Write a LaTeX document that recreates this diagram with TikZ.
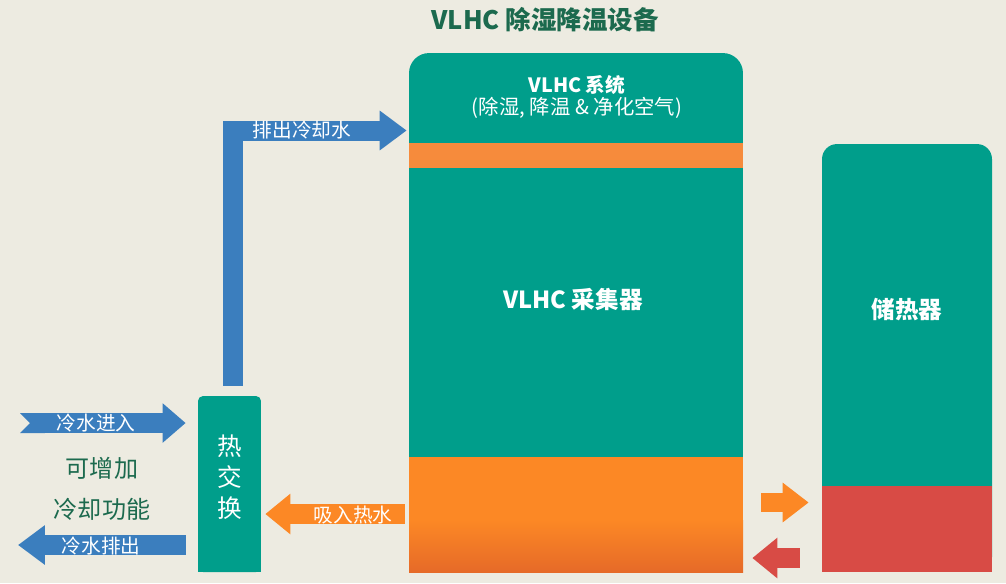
\documentclass[tikz,border=0pt]{standalone}
\usepackage{fontspec}
\setmainfont{Noto Sans CJK SC}
\usetikzlibrary{arrows.meta}

\definecolor{bgcol}{HTML}{EDEBE1}
\definecolor{tealbox}{HTML}{009E8B}
\definecolor{orangebox}{HTML}{FC8825}
\definecolor{orangedark}{HTML}{E66A28}
\definecolor{orangeband}{HTML}{F68B3C}
\definecolor{redbox}{HTML}{D84B45}
\definecolor{bluearrow}{HTML}{3B7EBE}
\definecolor{titlegreen}{HTML}{1C6A4E}

\begin{document}
\begin{tikzpicture}[x=0.02cm,y=-0.02cm,
	box/.style={fill=tealbox,inner sep=0pt},
	label/.style={text=white,inner sep=0pt,font=\fontsize{11.2}{13}\selectfont},
	bigarrow/.style={line width=0.4cm,line join=miter},
	]
	\fill[bgcol] (0,0) rectangle (1006,583);

	% boxes
	\node[box,rounded corners=0.4cm,minimum width=6.68cm,minimum height=10.38cm] (vlhc) at (576,312.5) {};
	\node[box,rounded corners=0.3cm,minimum width=3.4cm,minimum height=8.56cm] (store) at (907,358) {};
	\node[box,rounded corners=0.1cm,minimum width=1.26cm,minimum height=3.52cm] (hx) at (229.5,484) {};
	\fill[tealbox] (198,540) rectangle (261,572);
	\fill[orangeband] (409,143) rectangle (743,168);
	\fill[orangebox] (409,457) rectangle (743,521);
	\shade[top color=orangebox,bottom color=orangedark] (409,520) rectangle (743,572);
	\fill[redbox] (822,486) rectangle (992,572);

	% texts
	\node[text=titlegreen,font=\fontsize{14.5}{16}\selectfont\bfseries] (title) at (545,20) {VLHC 除湿降温设备};
	\node[text=white,font=\fontsize{11.2}{13}\selectfont\bfseries] (sys) at (577,85) {VLHC 系统};
	\node[text=white,font=\fontsize{11.6}{13}\selectfont] (sysnote) at (577,108) {(除湿, 降温 \& 净化空气)};
	\node[text=white,font=\fontsize{13.4}{15}\selectfont\bfseries] (coll) at (573,299) {VLHC 采集器};
	\node[text=white,font=\fontsize{13.4}{15}\selectfont\bfseries] (storetxt) at (907,310) {储热器};
	\node[text=white,font=\fontsize{14}{16}\selectfont] (hx1) at (229.5,446) {热};
	\node[text=white,font=\fontsize{14}{16}\selectfont] (hx2) at (229.5,477) {交};
	\node[text=white,font=\fontsize{14}{16}\selectfont] (hx3) at (229.5,508) {换};
	\node[text=titlegreen,font=\fontsize{13.7}{16}\selectfont] (extra1) at (102,468) {可增加};
	\node[text=titlegreen,font=\fontsize{13.7}{16}\selectfont] (extra2) at (102,509) {冷却功能};

	% arrows
	\coordinate (cin) at (20,423);
	\coordinate (cout) at (18,545);
	\draw[bigarrow,bluearrow,{Triangle Cap[reversed]}-{Triangle[length=0.46cm,width=0.76cm]},shorten >=0.24cm]
		(cin) -- (hx.west |- cin);
	\draw[bigarrow,bluearrow,-{Triangle[length=0.54cm,width=0.76cm]},shorten <=0.24cm]
		(hx.west |- cout) -- (cout);
	\draw[bigarrow,bluearrow,-{Triangle[length=0.54cm,width=0.76cm]},shorten >=0.04cm]
		([xshift=0.07cm,yshift=0.2cm]hx.north) |- (vlhc.west |- 0,130.5);
	\draw[bigarrow,orangebox,-{Triangle[length=0.5cm,width=0.78cm]},shorten <=0.08cm,shorten >=0.08cm]
		(vlhc.west |- 0,514) -- (hx.east |- 0,514);
	\draw[line width=0.38cm,orangebox,-{Triangle[length=0.52cm,width=0.76cm]},shorten <=0.36cm,shorten >=0.26cm]
		(vlhc.east |- 0,502.5) -- (store.west |- 0,502.5);
	\draw[bigarrow,redbox,-{Triangle[length=0.5cm,width=0.78cm]},shorten <=0.44cm,shorten >=0.18cm]
		(store.west |- 0,558) -- (vlhc.east |- 0,558);

	% arrow labels
	\node[label] (cintxt) at (96,423) {冷水进入};
	\node[label] (couttxt) at (101,546) {冷水排出};
	\node[label] (outtxt) at (302,130) {排出冷却水};
	\node[label] (hottxt) at (353,515) {吸入热水};
\end{tikzpicture}
\end{document}
